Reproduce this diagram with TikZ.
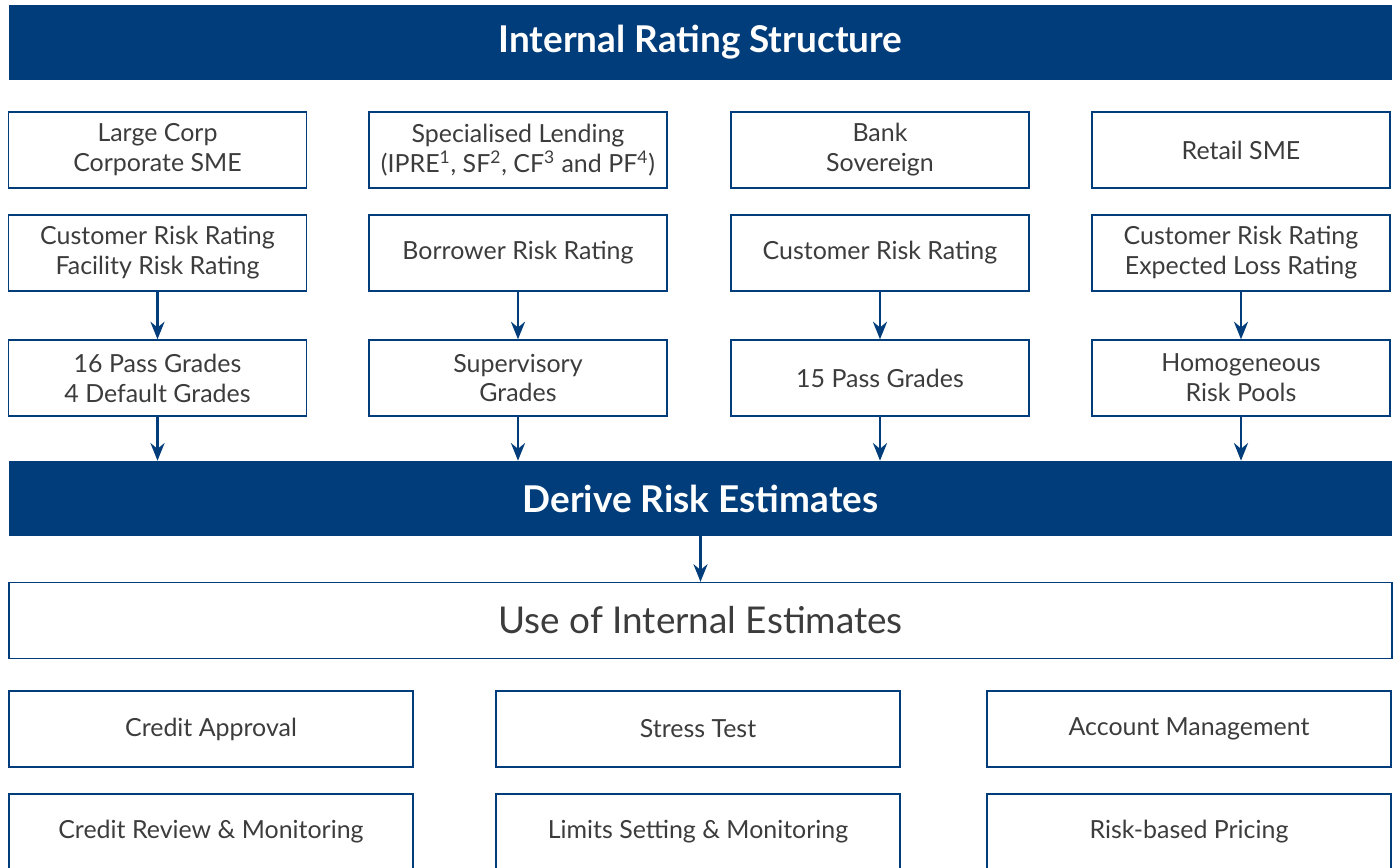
\documentclass[tikz,border=0pt]{standalone}
\usepackage{fontspec}
\setmainfont{Lato}
\usetikzlibrary{arrows.meta}
\definecolor{irbblue}{RGB}{0,61,122}
\definecolor{irbtext}{RGB}{60,60,60}

\begin{document}
\begin{tikzpicture}[x=0.02cm, y=-0.02cm,
  banner/.style = {fill=irbblue, text=white, minimum width=27.66cm, minimum height=1.5cm,
                   font=\fontsize{21}{25}\selectfont\bfseries},
  typebox/.style = {draw=irbblue, line width=0.8pt, text=irbtext, align=center,
                    minimum width=5.96cm, minimum height=1.52cm,
                    font=\fontsize{14.2}{17}\selectfont},
  usebox/.style = {typebox, minimum width=8.08cm},
  flow/.style = {draw=irbblue, line width=1.5pt, -{Stealth[length=10pt,width=8pt]}}]
\useasboundingbox (0,0) rectangle (1397,867);

\node[banner] (irs) at (700.5,42.5) {Internal Rating Structure};

% portfolios
\node[typebox] (corp) at (157.5,150) {Large Corp\\Corporate SME};
\node[typebox] (sl)   at (518,150) {Specialised Lending\\(IPRE\textsuperscript{1}, SF\textsuperscript{2}, CF\textsuperscript{3} and PF\textsuperscript{4})};
\node[typebox] (bank) at (880,150) {Bank\\Sovereign};
\node[typebox] (ret)  at (1241,150) {Retail SME};

% rating systems
\node[typebox] (corprr) at (157.5,253) {Customer Risk Rating\\Facility Risk Rating};
\node[typebox] (slrr)   at (518,253) {Borrower Risk Rating};
\node[typebox] (bankrr) at (880,253) {Customer Risk Rating};
\node[typebox] (retrr)  at (1241,253) {Customer Risk Rating\\Expected Loss Rating};

% grades
\node[typebox] (corpg) at (157.5,378) {16 Pass Grades\\4 Default Grades};
\node[typebox] (slg)   at (518,378) {Supervisory\\Grades};
\node[typebox] (bankg) at (880,378) {15 Pass Grades};
\node[typebox] (retg)  at (1241,378) {Homogeneous\\Risk Pools};

\node[banner] (dre) at (700.5,498.5) {Derive Risk Estimates};

\foreach \c in {corp,sl,bank,ret}{
  \draw[flow] (\c rr) -- (\c g);
  \draw[flow] (\c g) -- (\c g |- dre.north);
}

\node[typebox, minimum width=27.66cm, font=\fontsize{21}{25}\selectfont] (use) at (700.5,620.5) {Use of Internal Estimates};
\draw[flow] (dre) -- (use);

% uses
\node[usebox] (ca) at (211,729) {Credit Approval};
\node[usebox] (st) at (698,729) {Stress Test};
\node[usebox] (am) at (1189,729) {Account Management};
\node[usebox] (cr) at (211,832) {Credit Review \& Monitoring};
\node[usebox] (ls) at (698,832) {Limits Setting \& Monitoring};
\node[usebox] (rp) at (1189,832) {Risk-based Pricing};
\end{tikzpicture}
\end{document}
